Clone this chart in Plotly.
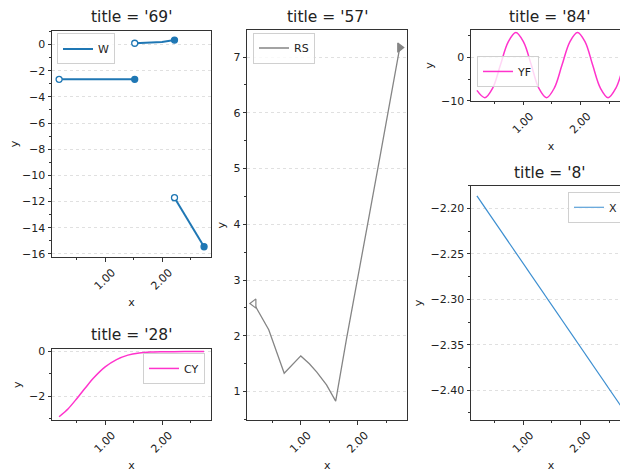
import plotly.graph_objects as go

# ---------------- data ----------------
# panel '69' : series W (three pieces, open start / filled end)
w1_x = [0.19, 1.52]
w1_y = [-2.66, -2.66]
w2_x = [1.52, 1.75, 2.0, 2.22]
w2_y = [0.10, 0.13, 0.20, 0.34]
w3_x = [2.22, 2.74]
w3_y = [-11.70, -15.45]

# panel '57' : series RS
rs_x = [0.18, 0.44, 0.71, 1.0, 1.15, 1.28, 1.45, 1.61, 1.80, 2.0, 2.2, 2.4, 2.6, 2.73]
rs_y = [2.58, 2.11, 1.33, 1.64, 1.50, 1.35, 1.12, 0.83, 1.95, 3.04, 4.18, 5.30, 6.42, 7.17]

# panel '84' : series YF
yf_x = [0.19, 0.33, 0.465, 0.60, 0.735, 0.87, 1.005, 1.14, 1.27, 1.405, 1.54,
        1.675, 1.81, 1.945, 2.08, 2.21, 2.345, 2.48, 2.615, 2.74]
yf_y = [-7.6, -9.26, -7.08, -1.8, 3.47, 5.66, 3.47, -1.8, -7.08, -9.26, -7.08,
        -1.8, 3.47, 5.66, 3.47, -1.8, -7.08, -9.26, -7.08, -2.2]

# panel '28' : series CY
cy_x = [0.19, 0.35, 0.5, 0.65, 0.8, 1.0, 1.2, 1.4, 1.6, 1.8, 2.0, 2.4, 2.74]
cy_y = [-2.93, -2.57, -2.12, -1.64, -1.18, -0.69, -0.36, -0.16, -0.066, -0.024, -0.01, 0.0, 0.0]

# panel '8' : series X
x_x = [0.19, 2.74]
x_y = [-2.186, -2.421]

titles = ["title = '69'", "title = '57'", "title = '84'", "title = '28'", "title = '8'"]

BLUE = "#1f77b4"
GRAY = "#858585"
MAG = "#ff33cc"
XBLUE = "#3b8ed0"
FONT = "DejaVu Sans"
W, H = 628, 476
OFF = 8  # page body margin of the html page

fig = go.Figure()

# ---- W ----
for i, (sx, sy) in enumerate([(w1_x, w1_y), (w2_x, w2_y), (w3_x, w3_y)]):
    fig.add_trace(go.Scatter(x=sx, y=sy, mode="lines", name="W", showlegend=(i == 0),
                             line=dict(color=BLUE, width=2), xaxis="x", yaxis="y",
                             legend="legend"))
for sx, sy in [(w1_x, w1_y), (w2_x, w2_y), (w3_x, w3_y)]:
    fig.add_trace(go.Scatter(x=[sx[0], sx[-1]], y=[sy[0], sy[-1]], mode="markers",
                             showlegend=False, xaxis="x", yaxis="y",
                             marker=dict(symbol="circle", size=6, color=["white", BLUE],
                                         line=dict(color=BLUE, width=1.3))))

# ---- RS ----
fig.add_trace(go.Scatter(x=rs_x, y=rs_y, mode="lines", name="RS",
                         line=dict(color=GRAY, width=1.3), xaxis="x2", yaxis="y2",
                         legend="legend2"))
fig.add_trace(go.Scatter(x=[rs_x[0], rs_x[-1]], y=[rs_y[0], rs_y[-1]], mode="markers",
                         showlegend=False, xaxis="x2", yaxis="y2",
                         marker=dict(symbol=["triangle-left", "triangle-right"], size=8,
                                     color=["white", GRAY], line=dict(color=GRAY, width=1.2))))

# ---- YF ----
fig.add_trace(go.Scatter(x=yf_x, y=yf_y, mode="lines", name="YF",
                         line=dict(color=MAG, width=1.5, shape="spline", smoothing=1.0),
                         xaxis="x3", yaxis="y3", legend="legend3"))

# ---- CY ----
fig.add_trace(go.Scatter(x=cy_x, y=cy_y, mode="lines", name="CY",
                         line=dict(color=MAG, width=1.5, shape="spline", smoothing=0.8),
                         xaxis="x4", yaxis="y4", legend="legend4"))

# ---- X ----
fig.add_trace(go.Scatter(x=x_x, y=x_y, mode="lines", name="X",
                         line=dict(color=XBLUE, width=1.2),
                         xaxis="x5", yaxis="y5", legend="legend5"))


def px_x(p):
    return (p - OFF) / W


def px_y(p):
    return 1 - (p - OFF) / H


common = dict(showline=True, mirror=True, linecolor="#333333", linewidth=1,
              ticks="outside", ticklen=3.5, tickwidth=0.8, tickcolor="#333333",
              tickfont=dict(family=FONT, size=11, color="#222222"),
              zeroline=False)


def xax(dom, rng, anchor):
    return dict(common, domain=dom, range=rng, anchor=anchor, showgrid=False,
                tickmode="array", tickvals=[1, 2], tickformat=".2f", tickangle=-45,
                ticklabelshift=7,
                minor=dict(ticks="outside", ticklen=2, tickwidth=0.6, tickcolor="#333333",
                           tickmode="array", tickvals=[0.5, 1.5, 2.5], showgrid=False),
                title=dict(text="x", font=dict(family=FONT, size=11, color="#222222"),
                           standoff=6))


def yax(dom, rng, anchor, dtick, minor_dtick, fmt=None):
    d = dict(common, domain=dom, range=rng, anchor=anchor, showgrid=True,
             gridcolor="#e0e0e0", griddash="dot", gridwidth=0.8,
             dtick=dtick, tick0=0,
             minor=dict(ticks="outside", ticklen=2, tickwidth=0.6, tickcolor="#333333",
                        dtick=minor_dtick, tick0=0, showgrid=False),
             title=dict(text="y", font=dict(family=FONT, size=11, color="#222222"),
                        standoff=5))
    if fmt:
        d["tickformat"] = fmt
    return d


c1 = [px_x(52), px_x(211)]
c2 = [px_x(247.3), px_x(407.3)]
c3 = [px_x(471), px_x(631)]
r_p1 = [px_y(259), px_y(27)]
r_p4 = [px_y(425.7), px_y(353.3)]
r_p2 = [px_y(425.7), px_y(26.7)]
r_p3 = [px_y(99), px_y(26.7)]
r_p5 = [px_y(425.7), px_y(186)]

xr12 = [0.065, 2.862]
xr3 = [0.087, 2.879]

layout = dict(
    width=W, height=H, margin=dict(l=0, r=0, t=0, b=0),
    paper_bgcolor="white", plot_bgcolor="white",
    font=dict(family=FONT, color="#222222"),
    xaxis=xax(c1, xr12, "y"), yaxis=yax(r_p1, [-16.25, 1.07], "x", 2, 1),
    xaxis2=xax(c2, xr12, "y2"), yaxis2=yax(r_p2, [0.49, 7.48], "x2", 1, 0.5),
    xaxis3=xax(c3, xr3, "y3"), yaxis3=yax(r_p3, [-10.0, 6.17], "x3", 10, 5),
    xaxis4=xax(c1, xr12, "y4"), yaxis4=yax(r_p4, [-3.08, 0.1], "x4", 2, 1),
    xaxis5=xax(c3, xr3, "y5"), yaxis5=yax(r_p5, [-2.433, -2.175], "x5", 0.05, 0.025, ".2f"),
)

leg_common = dict(bgcolor="rgba(255,255,255,0.8)", bordercolor="#d0d0d0", borderwidth=1,
                  font=dict(family=FONT, size=11, color="#222222"), itemwidth=30,
                  tracegroupgap=0)
layout["legend"] = dict(leg_common, x=px_x(57), y=px_y(30), xanchor="left", yanchor="top")
layout["legend2"] = dict(leg_common, x=px_x(253), y=px_y(29), xanchor="left", yanchor="top")
layout["legend3"] = dict(leg_common, x=px_x(477), y=px_y(53), xanchor="left", yanchor="top")
layout["legend4"] = dict(leg_common, x=px_x(205), y=px_y(357), xanchor="right", yanchor="top")
layout["legend5"] = dict(leg_common, x=px_x(623), y=px_y(192), xanchor="right", yanchor="top")

title_pos = [(131.5, 13), (327.3, 13), (549.5, 13), (131.5, 339), (549.5, 173)]
annotations = []
for t, (xx, yy) in zip(titles, title_pos):
    annotations.append(dict(text=t, x=px_x(xx), y=px_y(yy), xref="paper", yref="paper",
                            xanchor="center", yanchor="middle", showarrow=False,
                            font=dict(family=FONT, size=15.5, color="#222222")))
layout["annotations"] = annotations

fig.update_layout(**layout)
fig.write_html("out.html")
